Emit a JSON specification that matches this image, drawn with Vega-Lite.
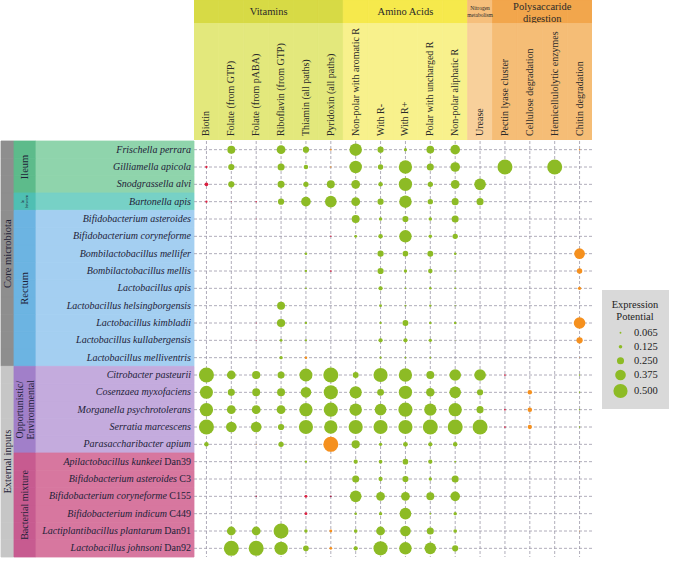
{
"$schema":"https://vega.github.io/schema/vega-lite/v6.json",
"padding":0,
"background":"white",
"spacing":0,
"bounds":"full",
"config":{"view":{"stroke":null},"concat":{"spacing":0},"text":{"font":"Liberation Serif","color":"#222238"}},
"resolve":{"scale":{"fill":"independent","stroke":"independent","color":"independent","size":"independent"},"legend":{"size":"independent"}},
"datasets":{
"columns":[
{"key":"bio","label":"Biotin","group":"Vitamins"},
{"key":"fgtp","label":"Folate (from GTP)","group":"Vitamins"},
{"key":"fpaba","label":"Folate (from pABA)","group":"Vitamins"},
{"key":"rib","label":"Riboflavin (from GTP)","group":"Vitamins"},
{"key":"thi","label":"Thiamin (all paths)","group":"Vitamins"},
{"key":"pyr","label":"Pyridoxin (all paths)","group":"Vitamins"},
{"key":"aro","label":"Non-polar with aromatic R","group":"Amino Acids"},
{"key":"neg","label":"With R-","group":"Amino Acids"},
{"key":"pos","label":"With R+","group":"Amino Acids"},
{"key":"pol","label":"Polar  with uncharged R","group":"Amino Acids"},
{"key":"ali","label":"Non-polar aliphatic R","group":"Amino Acids"},
{"key":"ure","label":"Urease","group":"Nitrogen metabolism"},
{"key":"pec","label":"Pectin lyase cluster","group":"Polysaccaride digestion"},
{"key":"cel","label":"Cellulose degradation","group":"Polysaccaride digestion"},
{"key":"hem","label":"Hemicellulolytic enzymes","group":"Polysaccaride digestion"},
{"key":"chi","label":"Chitin degradation","group":"Polysaccaride digestion"}],
"groups":[
{"group":"Vitamins","label":"Vitamins","anchor":"fpaba"},
{"group":"Amino Acids","label":"Amino Acids","anchor":"pos"},
{"group":"Nitrogen metabolism","label":"Nitrogen\nmetabolism","anchor":"ure"},
{"group":"Polysaccaride digestion","label":"Polysaccaride\ndigestion","anchor":"cel"}],
"species":[
{"s":"Frischella perrara","name":"Frischella perrara","strain":"","origin":"Core microbiota","niche":"Ileum"},
{"s":"Gilliamella apicola","name":"Gilliamella apicola","strain":"","origin":"Core microbiota","niche":"Ileum"},
{"s":"Snodgrassella alvi","name":"Snodgrassella alvi","strain":"","origin":"Core microbiota","niche":"Ileum"},
{"s":"Bartonella apis","name":"Bartonella apis","strain":"","origin":"Core microbiota","niche":"In between"},
{"s":"Bifidobacterium asteroides","name":"Bifidobacterium asteroides","strain":"","origin":"Core microbiota","niche":"Rectum"},
{"s":"Bifidobacterium coryneforme","name":"Bifidobacterium coryneforme","strain":"","origin":"Core microbiota","niche":"Rectum"},
{"s":"Bombilactobacillus mellifer","name":"Bombilactobacillus mellifer","strain":"","origin":"Core microbiota","niche":"Rectum"},
{"s":"Bombilactobacillus mellis","name":"Bombilactobacillus mellis","strain":"","origin":"Core microbiota","niche":"Rectum"},
{"s":"Lactobacillus apis","name":"Lactobacillus apis","strain":"","origin":"Core microbiota","niche":"Rectum"},
{"s":"Lactobacillus helsingborgensis","name":"Lactobacillus helsingborgensis","strain":"","origin":"Core microbiota","niche":"Rectum"},
{"s":"Lactobacillus kimbladii","name":"Lactobacillus kimbladii","strain":"","origin":"Core microbiota","niche":"Rectum"},
{"s":"Lactobacillus kullabergensis","name":"Lactobacillus kullabergensis","strain":"","origin":"Core microbiota","niche":"Rectum"},
{"s":"Lactobacillus melliventris","name":"Lactobacillus melliventris","strain":"","origin":"Core microbiota","niche":"Rectum"},
{"s":"Citrobacter pasteurii","name":"Citrobacter pasteurii","strain":"","origin":"External inputs","niche":"Opportunistic/Environmental"},
{"s":"Cosenzaea myxofaciens","name":"Cosenzaea myxofaciens","strain":"","origin":"External inputs","niche":"Opportunistic/Environmental"},
{"s":"Morganella psychrotolerans","name":"Morganella psychrotolerans","strain":"","origin":"External inputs","niche":"Opportunistic/Environmental"},
{"s":"Serratia marcescens","name":"Serratia marcescens","strain":"","origin":"External inputs","niche":"Opportunistic/Environmental"},
{"s":"Parasaccharibacter apium","name":"Parasaccharibacter apium","strain":"","origin":"External inputs","niche":"Opportunistic/Environmental"},
{"s":"Apilactobacillus kunkeei Dan39","name":"Apilactobacillus kunkeei","strain":"Dan39","origin":"External inputs","niche":"Bacterial mixture"},
{"s":"Bifidobacterium asteroides C3","name":"Bifidobacterium asteroides","strain":"C3","origin":"External inputs","niche":"Bacterial mixture"},
{"s":"Bifidobacterium coryneforme C155","name":"Bifidobacterium coryneforme","strain":"C155","origin":"External inputs","niche":"Bacterial mixture"},
{"s":"Bifidobacterium indicum C449","name":"Bifidobacterium indicum","strain":"C449","origin":"External inputs","niche":"Bacterial mixture"},
{"s":"Lactiplantibacillus plantarum Dan91","name":"Lactiplantibacillus plantarum","strain":"Dan91","origin":"External inputs","niche":"Bacterial mixture"},
{"s":"Lactobacillus johnsoni Dan92","name":"Lactobacillus johnsoni","strain":"Dan92","origin":"External inputs","niche":"Bacterial mixture"}],
"origins":[
{"origin":"Core microbiota","anchor":"Bombilactobacillus mellifer"},
{"origin":"External inputs","anchor":"Apilactobacillus kunkeei Dan39"}],
"niches":[
{"niche":"Ileum","label":"Ileum","anchor":"Gilliamella apicola"},
{"niche":"In between","label":"In\nbetween","anchor":"Bartonella apis"},
{"niche":"Rectum","label":"Rectum","anchor":"Lactobacillus apis"},
{"niche":"Opportunistic/Environmental","label":"Opportunistic/\nEnvironmental","anchor":"Morganella psychrotolerans"},
{"niche":"Bacterial mixture","label":"Bacterial mixture","anchor":"Bifidobacterium coryneforme C155"}],
"cells":[
{"s":"Frischella perrara","f":"fgtp","v":0.28,"c":"g"},
{"s":"Frischella perrara","f":"rib","v":0.31,"c":"g"},
{"s":"Frischella perrara","f":"thi","v":0.22,"c":"g"},
{"s":"Frischella perrara","f":"pyr","v":0.06,"c":"o"},
{"s":"Frischella perrara","f":"aro","v":0.44,"c":"g"},
{"s":"Frischella perrara","f":"neg","v":0.22,"c":"g"},
{"s":"Frischella perrara","f":"pos","v":0.11,"c":"g"},
{"s":"Frischella perrara","f":"pol","v":0.27,"c":"g"},
{"s":"Frischella perrara","f":"ali","v":0.34,"c":"g"},
{"s":"Frischella perrara","f":"chi","v":0.05,"c":"o"},
{"s":"Gilliamella apicola","f":"bio","v":0.08,"c":"r"},
{"s":"Gilliamella apicola","f":"fgtp","v":0.22,"c":"g"},
{"s":"Gilliamella apicola","f":"rib","v":0.25,"c":"g"},
{"s":"Gilliamella apicola","f":"thi","v":0.16,"c":"g"},
{"s":"Gilliamella apicola","f":"pyr","v":0.05,"c":"o"},
{"s":"Gilliamella apicola","f":"aro","v":0.44,"c":"g"},
{"s":"Gilliamella apicola","f":"neg","v":0.19,"c":"g"},
{"s":"Gilliamella apicola","f":"pos","v":0.47,"c":"g"},
{"s":"Gilliamella apicola","f":"pol","v":0.25,"c":"g"},
{"s":"Gilliamella apicola","f":"ali","v":0.34,"c":"g"},
{"s":"Gilliamella apicola","f":"pec","v":0.53,"c":"g"},
{"s":"Gilliamella apicola","f":"hem","v":0.53,"c":"g"},
{"s":"Snodgrassella alvi","f":"bio","v":0.13,"c":"r"},
{"s":"Snodgrassella alvi","f":"fgtp","v":0.22,"c":"g"},
{"s":"Snodgrassella alvi","f":"rib","v":0.25,"c":"g"},
{"s":"Snodgrassella alvi","f":"thi","v":0.19,"c":"g"},
{"s":"Snodgrassella alvi","f":"pyr","v":0.28,"c":"g"},
{"s":"Snodgrassella alvi","f":"aro","v":0.31,"c":"g"},
{"s":"Snodgrassella alvi","f":"neg","v":0.16,"c":"g"},
{"s":"Snodgrassella alvi","f":"pos","v":0.47,"c":"g"},
{"s":"Snodgrassella alvi","f":"pol","v":0.19,"c":"g"},
{"s":"Snodgrassella alvi","f":"ali","v":0.31,"c":"g"},
{"s":"Snodgrassella alvi","f":"ure","v":0.41,"c":"g"},
{"s":"Bartonella apis","f":"bio","v":0.08,"c":"r"},
{"s":"Bartonella apis","f":"fgtp","v":0.03,"c":"r"},
{"s":"Bartonella apis","f":"fpaba","v":0.05,"c":"r"},
{"s":"Bartonella apis","f":"rib","v":0.22,"c":"g"},
{"s":"Bartonella apis","f":"thi","v":0.34,"c":"g"},
{"s":"Bartonella apis","f":"pyr","v":0.41,"c":"g"},
{"s":"Bartonella apis","f":"aro","v":0.31,"c":"g"},
{"s":"Bartonella apis","f":"neg","v":0.22,"c":"g"},
{"s":"Bartonella apis","f":"pos","v":0.44,"c":"g"},
{"s":"Bartonella apis","f":"pol","v":0.19,"c":"g"},
{"s":"Bartonella apis","f":"ali","v":0.25,"c":"g"},
{"s":"Bartonella apis","f":"ure","v":0.25,"c":"g"},
{"s":"Bifidobacterium asteroides","f":"fpaba","v":0.03,"c":"r"},
{"s":"Bifidobacterium asteroides","f":"aro","v":0.28,"c":"g"},
{"s":"Bifidobacterium asteroides","f":"neg","v":0.125,"c":"g"},
{"s":"Bifidobacterium asteroides","f":"pos","v":0.22,"c":"g"},
{"s":"Bifidobacterium asteroides","f":"pol","v":0.125,"c":"g"},
{"s":"Bifidobacterium asteroides","f":"ali","v":0.25,"c":"g"},
{"s":"Bifidobacterium coryneforme","f":"pyr","v":0.05,"c":"r"},
{"s":"Bifidobacterium coryneforme","f":"aro","v":0.1,"c":"g"},
{"s":"Bifidobacterium coryneforme","f":"neg","v":0.16,"c":"g"},
{"s":"Bifidobacterium coryneforme","f":"pos","v":0.44,"c":"g"},
{"s":"Bifidobacterium coryneforme","f":"pol","v":0.125,"c":"g"},
{"s":"Bifidobacterium coryneforme","f":"ali","v":0.19,"c":"g"},
{"s":"Bombilactobacillus mellifer","f":"thi","v":0.09,"c":"g"},
{"s":"Bombilactobacillus mellifer","f":"neg","v":0.22,"c":"g"},
{"s":"Bombilactobacillus mellifer","f":"pos","v":0.2,"c":"g"},
{"s":"Bombilactobacillus mellifer","f":"pol","v":0.21,"c":"g"},
{"s":"Bombilactobacillus mellifer","f":"ali","v":0.09,"c":"g"},
{"s":"Bombilactobacillus mellifer","f":"chi","v":0.375,"c":"o"},
{"s":"Bombilactobacillus mellis","f":"thi","v":0.08,"c":"g"},
{"s":"Bombilactobacillus mellis","f":"pyr","v":0.06,"c":"r"},
{"s":"Bombilactobacillus mellis","f":"neg","v":0.22,"c":"g"},
{"s":"Bombilactobacillus mellis","f":"pos","v":0.12,"c":"g"},
{"s":"Bombilactobacillus mellis","f":"pol","v":0.16,"c":"g"},
{"s":"Bombilactobacillus mellis","f":"ali","v":0.06,"c":"g"},
{"s":"Bombilactobacillus mellis","f":"chi","v":0.19,"c":"o"},
{"s":"Lactobacillus apis","f":"thi","v":0.06,"c":"g"},
{"s":"Lactobacillus apis","f":"neg","v":0.15,"c":"g"},
{"s":"Lactobacillus apis","f":"pos","v":0.06,"c":"g"},
{"s":"Lactobacillus apis","f":"pol","v":0.09,"c":"g"},
{"s":"Lactobacillus apis","f":"ali","v":0.06,"c":"g"},
{"s":"Lactobacillus apis","f":"chi","v":0.12,"c":"o"},
{"s":"Lactobacillus helsingborgensis","f":"rib","v":0.28,"c":"g"},
{"s":"Lactobacillus helsingborgensis","f":"neg","v":0.1,"c":"g"},
{"s":"Lactobacillus helsingborgensis","f":"pos","v":0.06,"c":"g"},
{"s":"Lactobacillus helsingborgensis","f":"pol","v":0.08,"c":"g"},
{"s":"Lactobacillus helsingborgensis","f":"ali","v":0.04,"c":"g"},
{"s":"Lactobacillus kimbladii","f":"fpaba","v":0.03,"c":"r"},
{"s":"Lactobacillus kimbladii","f":"rib","v":0.29,"c":"g"},
{"s":"Lactobacillus kimbladii","f":"thi","v":0.08,"c":"g"},
{"s":"Lactobacillus kimbladii","f":"neg","v":0.08,"c":"g"},
{"s":"Lactobacillus kimbladii","f":"pos","v":0.21,"c":"g"},
{"s":"Lactobacillus kimbladii","f":"pol","v":0.09,"c":"g"},
{"s":"Lactobacillus kimbladii","f":"ali","v":0.09,"c":"g"},
{"s":"Lactobacillus kimbladii","f":"chi","v":0.41,"c":"o"},
{"s":"Lactobacillus kullabergensis","f":"fpaba","v":0.03,"c":"r"},
{"s":"Lactobacillus kullabergensis","f":"rib","v":0.1,"c":"g"},
{"s":"Lactobacillus kullabergensis","f":"thi","v":0.08,"c":"g"},
{"s":"Lactobacillus kullabergensis","f":"neg","v":0.15,"c":"g"},
{"s":"Lactobacillus kullabergensis","f":"pos","v":0.15,"c":"g"},
{"s":"Lactobacillus kullabergensis","f":"pol","v":0.12,"c":"g"},
{"s":"Lactobacillus kullabergensis","f":"ali","v":0.03,"c":"g"},
{"s":"Lactobacillus kullabergensis","f":"chi","v":0.22,"c":"o"},
{"s":"Lactobacillus melliventris","f":"rib","v":0.12,"c":"g"},
{"s":"Lactobacillus melliventris","f":"thi","v":0.09,"c":"o"},
{"s":"Lactobacillus melliventris","f":"neg","v":0.08,"c":"g"},
{"s":"Lactobacillus melliventris","f":"pos","v":0.06,"c":"g"},
{"s":"Lactobacillus melliventris","f":"pol","v":0.06,"c":"g"},
{"s":"Lactobacillus melliventris","f":"chi","v":0.03,"c":"o"},
{"s":"Citrobacter pasteurii","f":"bio","v":0.53,"c":"g"},
{"s":"Citrobacter pasteurii","f":"fgtp","v":0.31,"c":"g"},
{"s":"Citrobacter pasteurii","f":"fpaba","v":0.29,"c":"g"},
{"s":"Citrobacter pasteurii","f":"rib","v":0.25,"c":"g"},
{"s":"Citrobacter pasteurii","f":"thi","v":0.46,"c":"g"},
{"s":"Citrobacter pasteurii","f":"pyr","v":0.53,"c":"g"},
{"s":"Citrobacter pasteurii","f":"aro","v":0.21,"c":"g"},
{"s":"Citrobacter pasteurii","f":"neg","v":0.5,"c":"g"},
{"s":"Citrobacter pasteurii","f":"pos","v":0.47,"c":"g"},
{"s":"Citrobacter pasteurii","f":"pol","v":0.28,"c":"g"},
{"s":"Citrobacter pasteurii","f":"ali","v":0.41,"c":"g"},
{"s":"Citrobacter pasteurii","f":"ure","v":0.41,"c":"g"},
{"s":"Citrobacter pasteurii","f":"pec","v":0.06,"c":"r"},
{"s":"Citrobacter pasteurii","f":"chi","v":0.05,"c":"g"},
{"s":"Cosenzaea myxofaciens","f":"bio","v":0.46,"c":"g"},
{"s":"Cosenzaea myxofaciens","f":"fgtp","v":0.25,"c":"g"},
{"s":"Cosenzaea myxofaciens","f":"fpaba","v":0.28,"c":"g"},
{"s":"Cosenzaea myxofaciens","f":"rib","v":0.28,"c":"g"},
{"s":"Cosenzaea myxofaciens","f":"thi","v":0.375,"c":"g"},
{"s":"Cosenzaea myxofaciens","f":"pyr","v":0.5,"c":"g"},
{"s":"Cosenzaea myxofaciens","f":"aro","v":0.43,"c":"g"},
{"s":"Cosenzaea myxofaciens","f":"neg","v":0.24,"c":"g"},
{"s":"Cosenzaea myxofaciens","f":"pos","v":0.47,"c":"g"},
{"s":"Cosenzaea myxofaciens","f":"pol","v":0.3,"c":"g"},
{"s":"Cosenzaea myxofaciens","f":"ali","v":0.41,"c":"g"},
{"s":"Cosenzaea myxofaciens","f":"ure","v":0.22,"c":"g"},
{"s":"Cosenzaea myxofaciens","f":"cel","v":0.16,"c":"o"},
{"s":"Cosenzaea myxofaciens","f":"chi","v":0.05,"c":"g"},
{"s":"Morganella psychrotolerans","f":"bio","v":0.47,"c":"g"},
{"s":"Morganella psychrotolerans","f":"fgtp","v":0.31,"c":"g"},
{"s":"Morganella psychrotolerans","f":"fpaba","v":0.31,"c":"g"},
{"s":"Morganella psychrotolerans","f":"rib","v":0.31,"c":"g"},
{"s":"Morganella psychrotolerans","f":"thi","v":0.47,"c":"g"},
{"s":"Morganella psychrotolerans","f":"pyr","v":0.5,"c":"g"},
{"s":"Morganella psychrotolerans","f":"aro","v":0.44,"c":"g"},
{"s":"Morganella psychrotolerans","f":"neg","v":0.41,"c":"g"},
{"s":"Morganella psychrotolerans","f":"pos","v":0.5,"c":"g"},
{"s":"Morganella psychrotolerans","f":"pol","v":0.43,"c":"g"},
{"s":"Morganella psychrotolerans","f":"ali","v":0.47,"c":"g"},
{"s":"Morganella psychrotolerans","f":"ure","v":0.25,"c":"g"},
{"s":"Morganella psychrotolerans","f":"pec","v":0.06,"c":"r"},
{"s":"Morganella psychrotolerans","f":"cel","v":0.16,"c":"o"},
{"s":"Morganella psychrotolerans","f":"chi","v":0.05,"c":"g"},
{"s":"Serratia marcescens","f":"bio","v":0.53,"c":"g"},
{"s":"Serratia marcescens","f":"fgtp","v":0.375,"c":"g"},
{"s":"Serratia marcescens","f":"fpaba","v":0.375,"c":"g"},
{"s":"Serratia marcescens","f":"rib","v":0.22,"c":"g"},
{"s":"Serratia marcescens","f":"thi","v":0.5,"c":"g"},
{"s":"Serratia marcescens","f":"pyr","v":0.47,"c":"g"},
{"s":"Serratia marcescens","f":"aro","v":0.5,"c":"g"},
{"s":"Serratia marcescens","f":"neg","v":0.5,"c":"g"},
{"s":"Serratia marcescens","f":"pos","v":0.5,"c":"g"},
{"s":"Serratia marcescens","f":"pol","v":0.53,"c":"g"},
{"s":"Serratia marcescens","f":"ali","v":0.53,"c":"g"},
{"s":"Serratia marcescens","f":"ure","v":0.53,"c":"g"},
{"s":"Serratia marcescens","f":"pec","v":0.06,"c":"r"},
{"s":"Serratia marcescens","f":"cel","v":0.15,"c":"o"},
{"s":"Serratia marcescens","f":"chi","v":0.05,"c":"g"},
{"s":"Parasaccharibacter apium","f":"bio","v":0.16,"c":"g"},
{"s":"Parasaccharibacter apium","f":"fpaba","v":0.03,"c":"o"},
{"s":"Parasaccharibacter apium","f":"rib","v":0.19,"c":"g"},
{"s":"Parasaccharibacter apium","f":"pyr","v":0.53,"c":"o"},
{"s":"Parasaccharibacter apium","f":"aro","v":0.29,"c":"g"},
{"s":"Parasaccharibacter apium","f":"neg","v":0.12,"c":"g"},
{"s":"Parasaccharibacter apium","f":"pos","v":0.17,"c":"g"},
{"s":"Parasaccharibacter apium","f":"pol","v":0.15,"c":"g"},
{"s":"Parasaccharibacter apium","f":"ali","v":0.16,"c":"g"},
{"s":"Apilactobacillus kunkeei Dan39","f":"fgtp","v":0.02,"c":"d"},
{"s":"Apilactobacillus kunkeei Dan39","f":"fpaba","v":0.02,"c":"d"},
{"s":"Apilactobacillus kunkeei Dan39","f":"thi","v":0.08,"c":"g"},
{"s":"Apilactobacillus kunkeei Dan39","f":"aro","v":0.15,"c":"g"},
{"s":"Apilactobacillus kunkeei Dan39","f":"neg","v":0.13,"c":"g"},
{"s":"Apilactobacillus kunkeei Dan39","f":"pos","v":0.2,"c":"g"},
{"s":"Apilactobacillus kunkeei Dan39","f":"pol","v":0.15,"c":"g"},
{"s":"Apilactobacillus kunkeei Dan39","f":"ali","v":0.06,"c":"g"},
{"s":"Apilactobacillus kunkeei Dan39","f":"chi","v":0.03,"c":"o"},
{"s":"Bifidobacterium asteroides C3","f":"aro","v":0.25,"c":"g"},
{"s":"Bifidobacterium asteroides C3","f":"neg","v":0.15,"c":"g"},
{"s":"Bifidobacterium asteroides C3","f":"pos","v":0.22,"c":"g"},
{"s":"Bifidobacterium asteroides C3","f":"pol","v":0.12,"c":"g"},
{"s":"Bifidobacterium asteroides C3","f":"ali","v":0.25,"c":"g"},
{"s":"Bifidobacterium coryneforme C155","f":"fpaba","v":0.05,"c":"d"},
{"s":"Bifidobacterium coryneforme C155","f":"thi","v":0.1,"c":"r"},
{"s":"Bifidobacterium coryneforme C155","f":"pyr","v":0.06,"c":"d"},
{"s":"Bifidobacterium coryneforme C155","f":"aro","v":0.41,"c":"g"},
{"s":"Bifidobacterium coryneforme C155","f":"neg","v":0.31,"c":"g"},
{"s":"Bifidobacterium coryneforme C155","f":"pos","v":0.31,"c":"g"},
{"s":"Bifidobacterium coryneforme C155","f":"pol","v":0.28,"c":"g"},
{"s":"Bifidobacterium coryneforme C155","f":"ali","v":0.34,"c":"g"},
{"s":"Bifidobacterium indicum C449","f":"thi","v":0.1,"c":"r"},
{"s":"Bifidobacterium indicum C449","f":"aro","v":0.09,"c":"g"},
{"s":"Bifidobacterium indicum C449","f":"neg","v":0.12,"c":"g"},
{"s":"Bifidobacterium indicum C449","f":"pos","v":0.41,"c":"g"},
{"s":"Bifidobacterium indicum C449","f":"pol","v":0.06,"c":"g"},
{"s":"Bifidobacterium indicum C449","f":"ali","v":0.12,"c":"g"},
{"s":"Lactiplantibacillus plantarum Dan91","f":"fgtp","v":0.31,"c":"g"},
{"s":"Lactiplantibacillus plantarum Dan91","f":"fpaba","v":0.31,"c":"g"},
{"s":"Lactiplantibacillus plantarum Dan91","f":"rib","v":0.53,"c":"g"},
{"s":"Lactiplantibacillus plantarum Dan91","f":"thi","v":0.12,"c":"g"},
{"s":"Lactiplantibacillus plantarum Dan91","f":"pyr","v":0.1,"c":"o"},
{"s":"Lactiplantibacillus plantarum Dan91","f":"aro","v":0.13,"c":"g"},
{"s":"Lactiplantibacillus plantarum Dan91","f":"neg","v":0.31,"c":"g"},
{"s":"Lactiplantibacillus plantarum Dan91","f":"pos","v":0.375,"c":"g"},
{"s":"Lactiplantibacillus plantarum Dan91","f":"pol","v":0.25,"c":"g"},
{"s":"Lactiplantibacillus plantarum Dan91","f":"ali","v":0.13,"c":"g"},
{"s":"Lactiplantibacillus plantarum Dan91","f":"chi","v":0.03,"c":"o"},
{"s":"Lactobacillus johnsoni Dan92","f":"fgtp","v":0.53,"c":"g"},
{"s":"Lactobacillus johnsoni Dan92","f":"fpaba","v":0.53,"c":"g"},
{"s":"Lactobacillus johnsoni Dan92","f":"rib","v":0.47,"c":"g"},
{"s":"Lactobacillus johnsoni Dan92","f":"thi","v":0.2,"c":"g"},
{"s":"Lactobacillus johnsoni Dan92","f":"pyr","v":0.1,"c":"o"},
{"s":"Lactobacillus johnsoni Dan92","f":"aro","v":0.15,"c":"g"},
{"s":"Lactobacillus johnsoni Dan92","f":"neg","v":0.5,"c":"g"},
{"s":"Lactobacillus johnsoni Dan92","f":"pos","v":0.44,"c":"g"},
{"s":"Lactobacillus johnsoni Dan92","f":"pol","v":0.41,"c":"g"},
{"s":"Lactobacillus johnsoni Dan92","f":"ali","v":0.22,"c":"g"}]
},
"vconcat":[
{"spacing":0,"bounds":"flush",
 "resolve":{"scale":{"fill":"independent","stroke":"independent","color":"independent","size":"independent"},"legend":{"size":"independent"}},
 "hconcat":[
  {"width":193,"height":23,"data":{"values":[{}]},"mark":{"type":"rect","fill":"white","opacity":0,"clip":true},"encoding":{}},
  {"width":398,"height":23,
   "layer":[
    {"data":{"name":"columns"},"mark":{"type":"rect","strokeWidth":0.8,"clip":true},
     "encoding":{"x":{"field":"key","type":"nominal","axis":null,"scale":{"type":"band","domain":["bio","fgtp","fpaba","rib","thi","pyr","aro","neg","pos","pol","ali","ure","pec","cel","hem","chi"],"paddingInner":0,"paddingOuter":0}},
      "fill":{"field":"group","type":"nominal","legend":null,"scale":{"domain":["Vitamins","Amino Acids","Nitrogen metabolism","Polysaccaride digestion"],"range":["#d7da45","#f6e94c","#f6bf7c","#f2a64c"]}},
      "stroke":{"field":"group","type":"nominal","legend":null,"scale":{"domain":["Vitamins","Amino Acids","Nitrogen metabolism","Polysaccaride digestion"],"range":["#d7da45","#f6e94c","#f6bf7c","#f2a64c"]}}}},
    {"data":{"name":"groups"},"transform":[{"filter":{"field":"group","oneOf":["Vitamins"]}}],
     "mark":{"type":"text","fontSize":10.5,"baseline":"middle","align":"center","color":"#2a2a2a","clip":true},
     "encoding":{"x":{"field":"anchor","type":"nominal","axis":null,"bandPosition":1,"scale":{"type":"band","domain":["bio","fgtp","fpaba","rib","thi","pyr","aro","neg","pos","pol","ali","ure","pec","cel","hem","chi"],"paddingInner":0,"paddingOuter":0}},"text":{"field":"label"}}},
    {"data":{"name":"groups"},"transform":[{"filter":{"field":"group","oneOf":["Polysaccaride digestion"]}}],
     "mark":{"type":"text","fontSize":10.5,"lineBreak":"\n","lineHeight":12,"dy":-5,"baseline":"middle","align":"center","color":"#2a2a2a","clip":true},
     "encoding":{"x":{"field":"anchor","type":"nominal","axis":null,"bandPosition":1,"scale":{"type":"band","domain":["bio","fgtp","fpaba","rib","thi","pyr","aro","neg","pos","pol","ali","ure","pec","cel","hem","chi"],"paddingInner":0,"paddingOuter":0}},"text":{"field":"label"}}},
    {"data":{"name":"groups"},"transform":[{"filter":{"field":"group","oneOf":["Amino Acids"]}}],
     "mark":{"type":"text","fontSize":10.5,"baseline":"middle","align":"center","color":"#2a2a2a","clip":true},
     "encoding":{"x":{"field":"anchor","type":"nominal","axis":null,"scale":{"type":"band","domain":["bio","fgtp","fpaba","rib","thi","pyr","aro","neg","pos","pol","ali","ure","pec","cel","hem","chi"],"paddingInner":0,"paddingOuter":0}},"text":{"field":"label"}}},
    {"data":{"name":"groups"},"transform":[{"filter":{"field":"group","oneOf":["Nitrogen metabolism"]}}],
     "mark":{"type":"text","fontSize":5.5,"lineBreak":"\n","lineHeight":7,"dy":-3.5,"baseline":"middle","align":"center","color":"#2a2a2a","clip":true},
     "encoding":{"x":{"field":"anchor","type":"nominal","axis":null,"scale":{"type":"band","domain":["bio","fgtp","fpaba","rib","thi","pyr","aro","neg","pos","pol","ali","ure","pec","cel","hem","chi"],"paddingInner":0,"paddingOuter":0}},"text":{"field":"label"}}}
   ]}
 ]},
{"spacing":0,"bounds":"flush",
 "resolve":{"scale":{"fill":"independent","stroke":"independent","color":"independent","size":"independent"},"legend":{"size":"independent"}},
 "hconcat":[
  {"width":193,"height":117,"data":{"values":[{}]},"mark":{"type":"rect","fill":"white","opacity":0,"clip":true},"encoding":{}},
  {"width":398,"height":117,"data":{"name":"columns"},
   "layer":[
    {"mark":{"type":"rect","strokeWidth":0.8,"clip":true},
     "encoding":{"x":{"field":"key","type":"nominal","axis":null,"scale":{"type":"band","domain":["bio","fgtp","fpaba","rib","thi","pyr","aro","neg","pos","pol","ali","ure","pec","cel","hem","chi"],"paddingInner":0,"paddingOuter":0}},
      "fill":{"field":"group","type":"nominal","legend":null,"scale":{"domain":["Vitamins","Amino Acids","Nitrogen metabolism","Polysaccaride digestion"],"range":["#e3e87c","#f8f18c","#f8d09b","#f5bd76"]}},
      "stroke":{"field":"group","type":"nominal","legend":null,"scale":{"domain":["Vitamins","Amino Acids","Nitrogen metabolism","Polysaccaride digestion"],"range":["#e3e87c","#f8f18c","#f8d09b","#f5bd76"]}}}},
    {"mark":{"type":"text","fontSize":10,"angle":270,"align":"left","baseline":"middle","y":"height","dx":4,"color":"#2a2a2a","clip":true},
     "encoding":{"x":{"field":"key","type":"nominal","axis":null,"scale":{"type":"band","domain":["bio","fgtp","fpaba","rib","thi","pyr","aro","neg","pos","pol","ali","ure","pec","cel","hem","chi"],"paddingInner":0,"paddingOuter":0}},"text":{"field":"label"}}}
   ]}
 ]},
{"spacing":0,"bounds":"flush",
 "resolve":{"scale":{"fill":"independent","stroke":"independent","color":"independent","size":"independent"},"legend":{"size":"independent"}},
 "hconcat":[
  {"width":13,"height":416,
   "layer":[
    {"data":{"name":"species"},"mark":{"type":"rect","strokeWidth":0.8},
     "encoding":{"y":{"field":"s","type":"nominal","axis":null,"scale":{"type":"band","domain":["Frischella perrara","Gilliamella apicola","Snodgrassella alvi","Bartonella apis","Bifidobacterium asteroides","Bifidobacterium coryneforme","Bombilactobacillus mellifer","Bombilactobacillus mellis","Lactobacillus apis","Lactobacillus helsingborgensis","Lactobacillus kimbladii","Lactobacillus kullabergensis","Lactobacillus melliventris","Citrobacter pasteurii","Cosenzaea myxofaciens","Morganella psychrotolerans","Serratia marcescens","Parasaccharibacter apium","Apilactobacillus kunkeei Dan39","Bifidobacterium asteroides C3","Bifidobacterium coryneforme C155","Bifidobacterium indicum C449","Lactiplantibacillus plantarum Dan91","Lactobacillus johnsoni Dan92"],"paddingInner":0,"paddingOuter":0}},
      "fill":{"field":"origin","type":"nominal","legend":null,"scale":{"domain":["Core microbiota","External inputs"],"range":["#8e8e8e","#c6c6c6"]}},
      "stroke":{"field":"origin","type":"nominal","legend":null,"scale":{"domain":["Core microbiota","External inputs"],"range":["#8e8e8e","#c6c6c6"]}}}},
    {"data":{"name":"origins"},"mark":{"type":"text","fontSize":10.5,"angle":270,"align":"center","baseline":"middle","color":"#1e2238"},
     "encoding":{"y":{"field":"anchor","type":"nominal","axis":null,"scale":{"type":"band","domain":["Frischella perrara","Gilliamella apicola","Snodgrassella alvi","Bartonella apis","Bifidobacterium asteroides","Bifidobacterium coryneforme","Bombilactobacillus mellifer","Bombilactobacillus mellis","Lactobacillus apis","Lactobacillus helsingborgensis","Lactobacillus kimbladii","Lactobacillus kullabergensis","Lactobacillus melliventris","Citrobacter pasteurii","Cosenzaea myxofaciens","Morganella psychrotolerans","Serratia marcescens","Parasaccharibacter apium","Apilactobacillus kunkeei Dan39","Bifidobacterium asteroides C3","Bifidobacterium coryneforme C155","Bifidobacterium indicum C449","Lactiplantibacillus plantarum Dan91","Lactobacillus johnsoni Dan92"],"paddingInner":0,"paddingOuter":0}},"text":{"field":"origin"}}}
   ]},
  {"width":22,"height":416,
   "layer":[
    {"data":{"name":"species"},"mark":{"type":"rect","strokeWidth":0.8},
     "encoding":{"y":{"field":"s","type":"nominal","axis":null,"scale":{"type":"band","domain":["Frischella perrara","Gilliamella apicola","Snodgrassella alvi","Bartonella apis","Bifidobacterium asteroides","Bifidobacterium coryneforme","Bombilactobacillus mellifer","Bombilactobacillus mellis","Lactobacillus apis","Lactobacillus helsingborgensis","Lactobacillus kimbladii","Lactobacillus kullabergensis","Lactobacillus melliventris","Citrobacter pasteurii","Cosenzaea myxofaciens","Morganella psychrotolerans","Serratia marcescens","Parasaccharibacter apium","Apilactobacillus kunkeei Dan39","Bifidobacterium asteroides C3","Bifidobacterium coryneforme C155","Bifidobacterium indicum C449","Lactiplantibacillus plantarum Dan91","Lactobacillus johnsoni Dan92"],"paddingInner":0,"paddingOuter":0}},
      "fill":{"field":"niche","type":"nominal","legend":null,"scale":{"domain":["Ileum","In between","Rectum","Opportunistic/Environmental","Bacterial mixture"],"range":["#5dbb8b","#4fbfb3","#6cb4e2","#a17fc9","#c75b90"]}},
      "stroke":{"field":"niche","type":"nominal","legend":null,"scale":{"domain":["Ileum","In between","Rectum","Opportunistic/Environmental","Bacterial mixture"],"range":["#5dbb8b","#4fbfb3","#6cb4e2","#a17fc9","#c75b90"]}}}},
    {"data":{"name":"niches"},"transform":[{"filter":{"field":"niche","oneOf":["Ileum","Rectum"]}}],
     "mark":{"type":"text","fontSize":10.5,"angle":270,"align":"center","baseline":"middle","color":"#1e2238"},
     "encoding":{"y":{"field":"anchor","type":"nominal","axis":null,"scale":{"type":"band","domain":["Frischella perrara","Gilliamella apicola","Snodgrassella alvi","Bartonella apis","Bifidobacterium asteroides","Bifidobacterium coryneforme","Bombilactobacillus mellifer","Bombilactobacillus mellis","Lactobacillus apis","Lactobacillus helsingborgensis","Lactobacillus kimbladii","Lactobacillus kullabergensis","Lactobacillus melliventris","Citrobacter pasteurii","Cosenzaea myxofaciens","Morganella psychrotolerans","Serratia marcescens","Parasaccharibacter apium","Apilactobacillus kunkeei Dan39","Bifidobacterium asteroides C3","Bifidobacterium coryneforme C155","Bifidobacterium indicum C449","Lactiplantibacillus plantarum Dan91","Lactobacillus johnsoni Dan92"],"paddingInner":0,"paddingOuter":0}},"text":{"field":"label"}}},
    {"data":{"name":"niches"},"transform":[{"filter":{"field":"niche","oneOf":["Opportunistic/Environmental"]}}],
     "mark":{"type":"text","fontSize":10,"angle":270,"align":"center","baseline":"middle","lineBreak":"\n","lineHeight":11,"dy":-5.5,"color":"#1e2238"},
     "encoding":{"y":{"field":"anchor","type":"nominal","axis":null,"scale":{"type":"band","domain":["Frischella perrara","Gilliamella apicola","Snodgrassella alvi","Bartonella apis","Bifidobacterium asteroides","Bifidobacterium coryneforme","Bombilactobacillus mellifer","Bombilactobacillus mellis","Lactobacillus apis","Lactobacillus helsingborgensis","Lactobacillus kimbladii","Lactobacillus kullabergensis","Lactobacillus melliventris","Citrobacter pasteurii","Cosenzaea myxofaciens","Morganella psychrotolerans","Serratia marcescens","Parasaccharibacter apium","Apilactobacillus kunkeei Dan39","Bifidobacterium asteroides C3","Bifidobacterium coryneforme C155","Bifidobacterium indicum C449","Lactiplantibacillus plantarum Dan91","Lactobacillus johnsoni Dan92"],"paddingInner":0,"paddingOuter":0}},"text":{"field":"label"}}},
    {"data":{"name":"niches"},"transform":[{"filter":{"field":"niche","oneOf":["In between"]}}],
     "mark":{"type":"text","fontSize":4,"angle":270,"align":"center","baseline":"middle","lineBreak":"\n","lineHeight":4.5,"dy":-2.25,"color":"#1e2238"},
     "encoding":{"y":{"field":"anchor","type":"nominal","axis":null,"scale":{"type":"band","domain":["Frischella perrara","Gilliamella apicola","Snodgrassella alvi","Bartonella apis","Bifidobacterium asteroides","Bifidobacterium coryneforme","Bombilactobacillus mellifer","Bombilactobacillus mellis","Lactobacillus apis","Lactobacillus helsingborgensis","Lactobacillus kimbladii","Lactobacillus kullabergensis","Lactobacillus melliventris","Citrobacter pasteurii","Cosenzaea myxofaciens","Morganella psychrotolerans","Serratia marcescens","Parasaccharibacter apium","Apilactobacillus kunkeei Dan39","Bifidobacterium asteroides C3","Bifidobacterium coryneforme C155","Bifidobacterium indicum C449","Lactiplantibacillus plantarum Dan91","Lactobacillus johnsoni Dan92"],"paddingInner":0,"paddingOuter":0}},"text":{"field":"label"}}},
    {"data":{"name":"niches"},"transform":[{"filter":{"field":"niche","oneOf":["Bacterial mixture"]}}],
     "mark":{"type":"text","fontSize":10,"angle":270,"align":"center","baseline":"middle","color":"#1e2238"},
     "encoding":{"y":{"field":"anchor","type":"nominal","axis":null,"bandPosition":1,"scale":{"type":"band","domain":["Frischella perrara","Gilliamella apicola","Snodgrassella alvi","Bartonella apis","Bifidobacterium asteroides","Bifidobacterium coryneforme","Bombilactobacillus mellifer","Bombilactobacillus mellis","Lactobacillus apis","Lactobacillus helsingborgensis","Lactobacillus kimbladii","Lactobacillus kullabergensis","Lactobacillus melliventris","Citrobacter pasteurii","Cosenzaea myxofaciens","Morganella psychrotolerans","Serratia marcescens","Parasaccharibacter apium","Apilactobacillus kunkeei Dan39","Bifidobacterium asteroides C3","Bifidobacterium coryneforme C155","Bifidobacterium indicum C449","Lactiplantibacillus plantarum Dan91","Lactobacillus johnsoni Dan92"],"paddingInner":0,"paddingOuter":0}},"text":{"field":"label"}}}
   ]},
  {"width":158,"height":416,"data":{"name":"species"},
   "encoding":{"y":{"field":"s","type":"nominal","axis":null,"scale":{"type":"band","domain":["Frischella perrara","Gilliamella apicola","Snodgrassella alvi","Bartonella apis","Bifidobacterium asteroides","Bifidobacterium coryneforme","Bombilactobacillus mellifer","Bombilactobacillus mellis","Lactobacillus apis","Lactobacillus helsingborgensis","Lactobacillus kimbladii","Lactobacillus kullabergensis","Lactobacillus melliventris","Citrobacter pasteurii","Cosenzaea myxofaciens","Morganella psychrotolerans","Serratia marcescens","Parasaccharibacter apium","Apilactobacillus kunkeei Dan39","Bifidobacterium asteroides C3","Bifidobacterium coryneforme C155","Bifidobacterium indicum C449","Lactiplantibacillus plantarum Dan91","Lactobacillus johnsoni Dan92"],"paddingInner":0,"paddingOuter":0}}},
   "layer":[
    {"mark":{"type":"rect","strokeWidth":0.8},
     "encoding":{"fill":{"field":"niche","type":"nominal","legend":null,"scale":{"domain":["Ileum","In between","Rectum","Opportunistic/Environmental","Bacterial mixture"],"range":["#8fd4ac","#77d1c6","#a4cff1","#c4abdd","#d7779f"]}},
      "stroke":{"field":"niche","type":"nominal","legend":null,"scale":{"domain":["Ileum","In between","Rectum","Opportunistic/Environmental","Bacterial mixture"],"range":["#8fd4ac","#77d1c6","#a4cff1","#c4abdd","#d7779f"]}}}},
    {"transform":[{"filter":"!datum.strain"}],
     "mark":{"type":"text","fontSize":10,"fontStyle":"italic","align":"right","baseline":"middle","x":"width","dx":-3,"color":"#222238"},
     "encoding":{"text":{"field":"name"}}},
    {"transform":[{"filter":{"field":"strain","oneOf":["Dan39","Dan91","Dan92"]}}],
     "mark":{"type":"text","fontSize":10,"fontStyle":"italic","align":"right","baseline":"middle","x":"width","dx":-32,"color":"#222238"},
     "encoding":{"text":{"field":"name"}}},
    {"transform":[{"filter":{"field":"strain","oneOf":["C155","C449"]}}],
     "mark":{"type":"text","fontSize":10,"fontStyle":"italic","align":"right","baseline":"middle","x":"width","dx":-27,"color":"#222238"},
     "encoding":{"text":{"field":"name"}}},
    {"transform":[{"filter":{"field":"strain","oneOf":["C3"]}}],
     "mark":{"type":"text","fontSize":10,"fontStyle":"italic","align":"right","baseline":"middle","x":"width","dx":-17,"color":"#222238"},
     "encoding":{"text":{"field":"name"}}},
    {"transform":[{"filter":"datum.strain"}],
     "mark":{"type":"text","fontSize":10,"align":"right","baseline":"middle","x":"width","dx":-3,"color":"#222238"},
     "encoding":{"text":{"field":"strain"}}}
   ]},
  {"width":398,"height":416,
   "layer":[
    {"data":{"name":"columns"},"mark":{"type":"rule","strokeDash":[3,2],"color":"#9c98a8","strokeWidth":0.8},
     "encoding":{"x":{"field":"key","type":"nominal","axis":null,"scale":{"type":"band","domain":["bio","fgtp","fpaba","rib","thi","pyr","aro","neg","pos","pol","ali","ure","pec","cel","hem","chi"],"paddingInner":0,"paddingOuter":0}}}},
    {"data":{"name":"species"},"mark":{"type":"rule","strokeDash":[3,2],"color":"#9c98a8","strokeWidth":0.8},
     "encoding":{"y":{"field":"s","type":"nominal","axis":null,"scale":{"type":"band","domain":["Frischella perrara","Gilliamella apicola","Snodgrassella alvi","Bartonella apis","Bifidobacterium asteroides","Bifidobacterium coryneforme","Bombilactobacillus mellifer","Bombilactobacillus mellis","Lactobacillus apis","Lactobacillus helsingborgensis","Lactobacillus kimbladii","Lactobacillus kullabergensis","Lactobacillus melliventris","Citrobacter pasteurii","Cosenzaea myxofaciens","Morganella psychrotolerans","Serratia marcescens","Parasaccharibacter apium","Apilactobacillus kunkeei Dan39","Bifidobacterium asteroides C3","Bifidobacterium coryneforme C155","Bifidobacterium indicum C449","Lactiplantibacillus plantarum Dan91","Lactobacillus johnsoni Dan92"],"paddingInner":0,"paddingOuter":0}}}},
    {"data":{"name":"cells"},"mark":{"type":"circle","opacity":1,"strokeWidth":0},
     "encoding":{
      "x":{"field":"f","type":"nominal","axis":null,"scale":{"type":"band","domain":["bio","fgtp","fpaba","rib","thi","pyr","aro","neg","pos","pol","ali","ure","pec","cel","hem","chi"],"paddingInner":0,"paddingOuter":0}},
      "y":{"field":"s","type":"nominal","axis":null,"scale":{"type":"band","domain":["Frischella perrara","Gilliamella apicola","Snodgrassella alvi","Bartonella apis","Bifidobacterium asteroides","Bifidobacterium coryneforme","Bombilactobacillus mellifer","Bombilactobacillus mellis","Lactobacillus apis","Lactobacillus helsingborgensis","Lactobacillus kimbladii","Lactobacillus kullabergensis","Lactobacillus melliventris","Citrobacter pasteurii","Cosenzaea myxofaciens","Morganella psychrotolerans","Serratia marcescens","Parasaccharibacter apium","Apilactobacillus kunkeei Dan39","Bifidobacterium asteroides C3","Bifidobacterium coryneforme C155","Bifidobacterium indicum C449","Lactiplantibacillus plantarum Dan91","Lactobacillus johnsoni Dan92"],"paddingInner":0,"paddingOuter":0}},
      "size":{"field":"v","type":"quantitative","scale":{"type":"pow","exponent":2,"domain":[0,0.5],"range":[0,201]},
       "legend":{"orient":"none","legendX":408,"legendY":149,"title":["Expression","Potential"],"values":[0.065,0.125,0.25,0.375,0.5],"format":".3f","fillColor":"#d9d9d9","padding":10,"titleAlign":"center","titleAnchor":"middle","titleFont":"Liberation Serif","titleFontWeight":"normal","titleFontSize":10.5,"titleColor":"#222","titleLineHeight":12,"labelFont":"Liberation Serif","labelFontSize":10.5,"labelColor":"#222","symbolFillColor":"#8dbb25","symbolStrokeWidth":0,"symbolType":"circle","symbolOpacity":1,"rowPadding":3,"labelOffset":6}},
      "color":{"field":"c","type":"nominal","legend":null,"scale":{"domain":["g","o","r","d"],"range":["#8dbb25","#f5901e","#dc1f3f","#a3153c"]}}}}
   ]}
 ]}
]
}
